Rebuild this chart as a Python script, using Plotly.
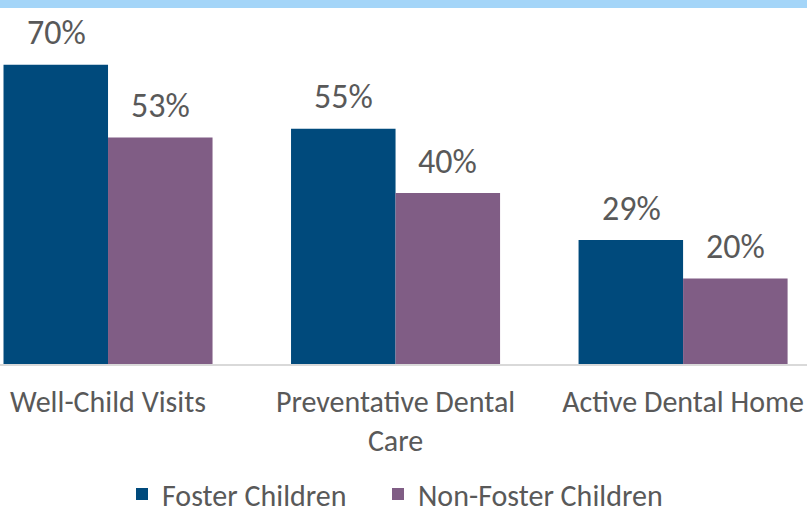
import plotly.graph_objects as go

categories = ["Well-Child Visits", "Preventative Dental<br>Care", "Active Dental Home"]
foster = [70, 55, 29]
non_foster = [53, 40, 20]
series_names = ["Foster Children", "Non-Foster Children"]
colors = ["#004a7c", "#805d85"]
legend_ids = ["legend", "legend2"]

FONT = "Carlito, Lato, sans-serif"
TXT = "#595959"

fig = go.Figure()
for name, vals, col, lg in zip(series_names, [foster, non_foster], colors, legend_ids):
    fig.add_trace(go.Bar(x=categories, y=vals, name=name, marker_color=col,
                         marker_line_width=0, legend=lg))

for vals, shift in [(foster, -52), (non_foster, 52)]:
    for c, v in zip(categories, vals):
        fig.add_annotation(x=c, y=v, xref="x", yref="y", text=f"{v}%",
                           showarrow=False, xshift=shift, yshift=32,
                           yanchor="middle",
                           font=dict(family=FONT, size=34, color=TXT))

T = 22
H = 364 - T
fig.add_shape(type="rect", xref="paper", yref="paper", x0=-0.01, x1=1.01,
              y0=(364 - 8) / H, y1=364 / H + 0.01,
              fillcolor="#a4d5f8", line_width=0, layer="below")

leg_common = dict(orientation="h", xanchor="left", xref="container",
                  y=(513 - 494) / 513, yanchor="middle", yref="container",
                  font=dict(family=FONT, size=30, color=TXT),
                  itemwidth=30, bgcolor="rgba(0,0,0,0)")

fig.update_layout(
    width=807, height=513,
    margin=dict(l=0, r=0, t=T, b=513 - 364),
    plot_bgcolor="white", paper_bgcolor="white",
    barmode="group", bargap=0.273, bargroupgap=0,
    showlegend=True,
    legend=dict(x=122 / 807, **leg_common),
    legend2=dict(x=378 / 807, **leg_common),
    font=dict(family=FONT, color=TXT),
)
fig.update_xaxes(range=[-0.3757, 2.431], showline=True, linecolor="#d9d9d9",
                 linewidth=2, ticks="", ticklabelstandoff=10,
                 tickfont=dict(family=FONT, size=30, color=TXT),
                 showgrid=False, automargin=False)
fig.update_yaxes(range=[0, 80], visible=False, showgrid=False, automargin=False)

fig.write_html("out.html", config={"displayModeBar": False},
               post_script="document.body.style.margin='0';document.body.style.overflow='hidden';")
